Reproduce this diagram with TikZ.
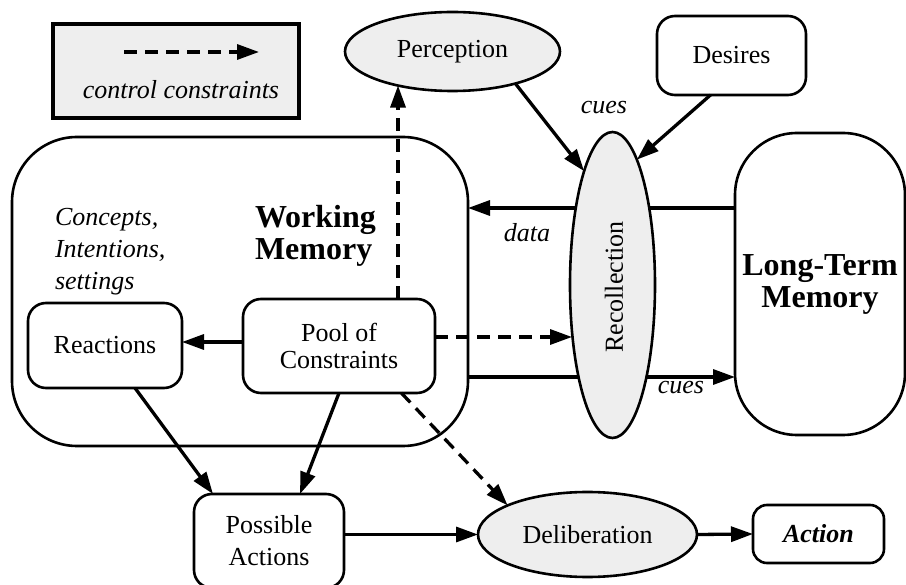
\documentclass[tikz,border=0pt]{standalone}
\usepackage{fontspec}
\setmainfont{Liberation Serif}
\usetikzlibrary{arrows.meta,shapes.geometric}
\definecolor{ovalgray}{HTML}{EEEEEE}
\begin{document}
\begin{tikzpicture}[x=1pt,y=-1pt,
  base/.style={inner sep=0pt, outer sep=0pt, font=\fontsize{26}{32}\selectfont, align=center},
  rbox/.style={base, draw, line width=2.6pt, rectangle, rounded corners=18pt},
  oval/.style={base, draw, line width=2.6pt, ellipse, fill=ovalgray},
  arr/.style={line width=3.3pt, -{Triangle[length=22pt,width=15pt]}},
  ctrl/.style={arr, dash pattern=on 13pt off 8pt},
  memlabel/.style={base, font=\fontsize{32}{32}\selectfont\bfseries},
  note/.style={base, font=\fontsize{26}{32}\selectfont\itshape},
]
\useasboundingbox (0,0) rectangle (906,585);

% legend
\node[draw, line width=3.2pt, fill=ovalgray, minimum width=246pt, minimum height=94pt] (legend) at (176,71) {};
\coordinate (lgA) at (124,52);
\coordinate (lgB) at (259,52);
\draw[ctrl] (lgA) -- (lgB);
\node[note] (lgtext) at (181,90) {control constraints};

% memories
\node[rbox, rounded corners=65pt, minimum width=456pt, minimum height=309pt] (wm) at (240,291.5) {};
\node[rbox, rounded corners=62pt, minimum width=170pt, minimum height=302pt] (ltm) at (820,284) {};
\node[memlabel] (ltmtext) at (820,284) {Long-Term\\Memory};
\node[memlabel, align=left, anchor=west] (wmtext) at (255,236) {Working\\Memory};
\node[note, align=left, anchor=west] (concepts) at (55,252) {Concepts,\\Intentions,\\settings};

% data / cues lines between the memories (behind recollection)
\coordinate (yData) at (0,208);
\coordinate (yCues) at (0,377);
\draw[arr] (ltm.west |- yData) -- (wm.east |- yData);
\draw[arr] (wm.east |- yCues) -- (ltm.west |- yCues);

% processes
\node[oval, minimum width=85pt, minimum height=306pt] (rec) at (612.5,285) {};
\node[base, rotate=90] (rectext) at (614,287) {Recollection};
\node[oval, minimum width=215pt, minimum height=79pt] (perc) at (452.5,51.5) {Perception};
\node[rbox, minimum width=149pt, minimum height=79pt] (des) at (731.5,55.5) {Desires};
\node[rbox, minimum width=154pt, minimum height=85pt] (react) at (105,345.5) {Reactions};
\node[rbox, minimum width=192pt, minimum height=94pt, font=\fontsize{26}{27}\selectfont] (pool) at (339,346) {Pool of\\Constraints};
\node[rbox, minimum width=150pt, minimum height=94pt] (poss) at (269,541) {Possible\\Actions};
\node[oval, minimum width=219pt, minimum height=85pt] (delib) at (587.5,534.5) {Deliberation};
\node[rbox, rounded corners=14pt, minimum width=131pt, minimum height=58pt, font=\fontsize{26}{32}\selectfont\bfseries\itshape] (act) at (818.5,534) {Action};

% labels
\node[note] (data) at (527,233) {data};
\node[note] (cuesA) at (604,108) {cues};
\node[note] (cuesB) at (681,388) {cues};

% connectors
\draw[ctrl] (perc.-148.7 |- pool.north) -- (perc.-148.7);
\draw[arr] (perc.-27) -- (rec.104);
\draw[arr] ([xshift=-21pt]des.south) -- (rec.79);
\draw[ctrl] ([yshift=9pt]pool.east) -- ([yshift=9pt,xshift=2pt]pool.east -| rec.west);
\coordinate (yReact) at (0,342);
\draw[arr] (pool.west |- yReact) -- (react.east |- yReact);
\draw[arr] ([xshift=30pt]react.south) -- ([xshift=-56pt]poss.north);
\draw[arr] (pool.south) -- ([xshift=31pt]poss.north);
\draw[ctrl] (pool.-37) -- (delib.160);
\draw[arr] (poss.east |- delib.west) -- (delib.west);
\draw[arr] (delib.east) -- (act.west);
\end{tikzpicture}
\end{document}
